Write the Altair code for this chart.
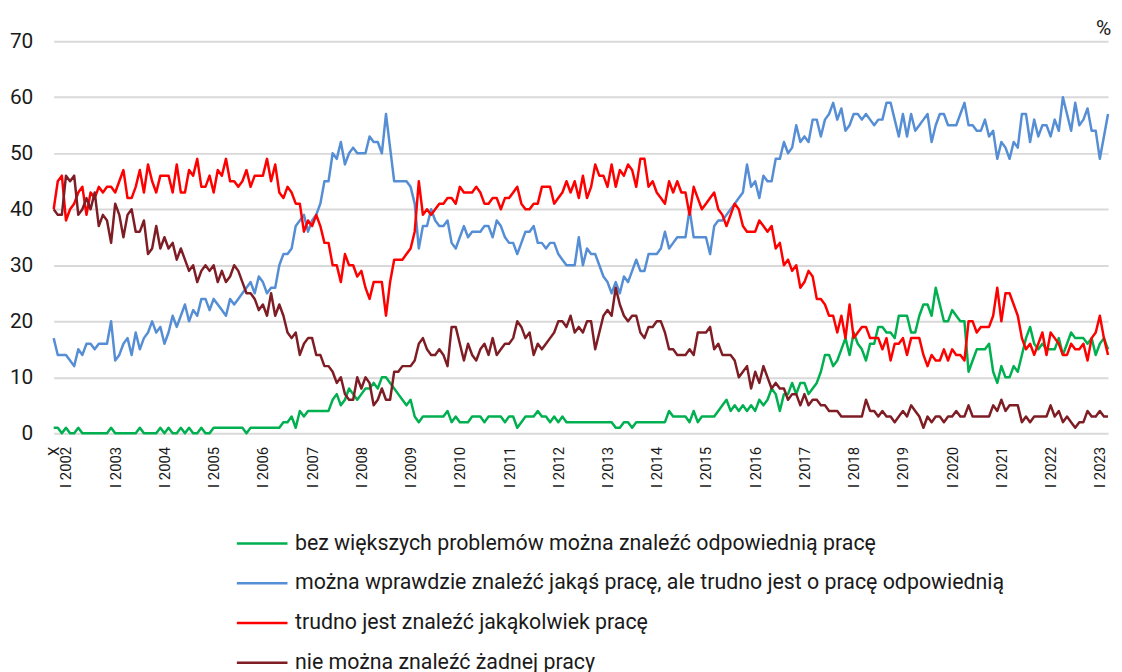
import altair as alt
import pandas as pd

# months from X 2001 to III 2023 (index 0 = X 2001)
green = [
    1,1,0,1,0,0,1,0,0,0, 0,0,0,0,1,0,0,0,0,0, 0,1,0,0,0,0,1,0,1,0,
    0,1,0,1,0,0,1,0,0,1, 1,1,1,1,1,1,1,0,1,1, 1,1,1,1,1,1,2,2,3,1,
    4,3,4,4,4,4,4,4,6,7, 5,6,8,7,6,7,8,8,9,8, 10,10,9,8,7,6,5,6,3,
    2,3,3,3,3,3,3,4,2,3, 2,2,2,3,3,3,2,3,3,3, 3,2,3,3,1,2,3,3,3,4,
    3,3,2,3,2,3,2,2,2,2, 2,2,2,2,2,2,2,2,1,1, 2,2,1,2,2,2,2,2,2,2,
    2,4,3,3,3,3,2,4,2,3, 3,3,3,4,5,6,4,
    5,4,5,4,5,4,6,5,6,8, 7,4,7,7,9,7,9,9,7,8, 9,11,14,14,12,13,15,17,14,18,
    16,15,13,16,16,19,19,18,18,17, 21,21,21,18,18,21,23,23,21,26,
    23,20,20,22,21,20,20,11,13,15, 15,15,16,11,9,12,10,10,12,11,
    14,17,19,16,15,16,15,15,15,17, 14,16,18,17,17,17,16,17,14,16, 17,15,
]
blue = [
    17,14,14,14,13,12,15,14,16,16, 15,16,16,16,20,13,14,16,17,14, 18,15,17,18,20,18,19,16,18,21,
    19,21,23,20,22,21,24,24,22,24, 23,22,21,24,23,24,25,26,27,25, 28,27,25,26,26,30,32,32,33,37,
    38,39,36,38,39,41,45,45,50,49, 52,48,50,51,50,50,50,53,52,52, 50,57,51,45,45,45,45,44,41,
    33,37,37,40,38,37,37,38,34,33, 35,37,35,36,36,36,37,37,35,38, 37,35,34,34,32,34,36,36,37,34,
    34,33,34,34,32,31,30,30,30,35, 30,33,32,32,30,28,27,25,27,25, 28,27,29,31,29,29,32,32,32,33,
    36,33,34,35,35,35,40,35,35,35, 35,32,37,38,38,39,40,
    41,42,43,48,44,45,42,46,45,45, 49,49,52,50,51,55,52,53,52,56, 56,53,56,57,59,56,58,54,55,57,
    57,56,57,56,55,56,56,59,59,56, 53,57,53,57,54,55,56,57,52,55, 57,57,55,55,55,57,59,55,55,54,
    54,56,53,54,49,52,51,49,52,51, 57,57,52,56,53,55,55,53,56,54, 60,57,54,59,55,56,58,54,54,49,
    53,57,
]
red = [
    40,45,46,38,40,41,43,44,39,43, 42,44,43,44,44,43,45,47,42,42, 44,47,43,48,45,43,46,46,46,43,
    48,43,43,47,46,49,44,44,46,43, 47,46,49,45,45,44,45,47,44,46, 46,46,49,45,48,43,42,44,43,41,
    41,36,38,37,39,37,34,34,30,30, 27,32,30,30,28,29,26,24,27,27, 27,21,27,31,31,31,32,33,36,
    45,39,40,39,40,41,41,42,42,41, 44,43,43,43,44,43,41,41,42,42, 40,42,42,43,44,41,40,40,41,41,
    44,44,44,41,42,43,45,43,45,42, 46,42,44,48,46,46,44,48,44,47, 46,48,47,44,49,49,44,45,43,42,
    41,45,43,45,43,43,39,44,42,40, 41,42,43,40,39,37,39,
    41,40,37,36,36,36,38,37,36,37, 33,34,30,31,29,30,26,27,29,28, 24,24,23,21,21,18,21,17,23,17,
    18,19,19,17,17,17,15,17,13,16, 16,17,14,17,17,17,14,12,14,13, 13,15,13,15,14,14,13,20,20,18,
    19,19,19,21,26,20,25,25,23,21, 17,15,16,14,16,18,14,18,17,16, 14,14,16,15,15,16,13,17,18,21,
    17,14,
]
dark_red = [
    40,39,39,46,45,46,39,40,42,40, 43,37,39,38,34,41,39,35,39,40, 36,36,38,32,33,37,33,35,33,34,
    31,33,31,29,30,27,29,30,29,30, 27,29,27,28,30,29,27,25,25,24, 22,23,21,25,21,23,21,18,17,18,
    14,16,17,17,14,14,12,12,11,9, 10,7,6,6,10,8,10,9,5,6, 8,6,6,11,11,12,12,12,13,
    16,17,15,14,14,15,14,12,19,19, 16,13,16,14,13,15,16,14,17,14, 15,16,16,17,20,19,17,18,14,16,
    15,16,17,18,20,20,19,21,18,19, 18,20,20,15,18,21,22,21,26,23, 21,20,21,21,18,17,19,19,20,20,
    18,15,15,14,14,14,15,14,18,18, 18,19,15,16,14,14,14,
    13,10,11,12,8,11,9,12,10,8, 9,8,8,6,7,7,5,7,5,6, 6,5,5,4,4,4,3,3,3,3,
    3,3,6,4,4,3,4,3,3,2, 3,4,3,5,4,3,1,3,2,3, 3,2,3,3,4,3,3,5,3,3,
    3,3,3,5,4,6,4,5,5,5, 2,3,2,3,3,3,3,5,3,4, 2,3,2,1,2,2,4,3,3,4,
    3,3,
]

series_names = [
    "bez większych problemów można znaleźć odpowiednią pracę",
    "można wprawdzie znaleźć jakąś pracę, ale trudno jest o pracę odpowiednią",
    "trudno jest znaleźć jakąkolwiek pracę",
    "nie można znaleźć żadnej pracy",
]
series_colors = ["#00B050", "#558ED5", "#FF0000", "#7F1D25"]

tick_positions = [0, 3, 15, 27, 39, 51, 63, 75, 87, 99, 111, 123, 135, 147, 159,
                  171, 183, 195, 207, 219, 231, 243, 255]
tick_labels = ["X", "I 2002", "I 2003", "I 2004", "I 2005", "I 2006", "I 2007", "I 2008",
               "I 2009", "I 2010", "I 2011", "I 2012", "I 2013", "I 2014", "I 2015",
               "I 2016", "I 2017", "I 2018", "I 2019", "I 2020", "I 2021", "I 2022", "I 2023"]
y_ticks = [0, 10, 20, 30, 40, 50, 60, 70]

all_series = [green, blue, red, dark_red]
n = len(green)
assert all(len(s) == n for s in all_series), [len(s) for s in all_series]

rows = []
for name, vals in zip(series_names, all_series):
    for i, v in enumerate(vals):
        rows.append({"idx": i, "value": v, "series": name})
df = pd.DataFrame(rows)

label_expr = ("[" + ",".join("'%s'" % t for t in tick_labels) + "][indexof(["
              + ",".join(str(p) for p in tick_positions) + "], datum.value)]")

FONT = "Roboto"
TXT = "#1a1a1a"

chart = alt.Chart(df).mark_line(strokeWidth=2.5, strokeJoin="round").encode(
    x=alt.X("idx:Q",
            scale=alt.Scale(domain=[0, n - 1], nice=False, zero=False),
            axis=alt.Axis(values=tick_positions, labelExpr=label_expr, labelAngle=270,
                          grid=False, domain=False, ticks=False, tickSize=0,
                          labelPadding=13, labelFontSize=15, labelFont=FONT,
                          labelColor=TXT, labelOverlap=False, labelFlush=False,
                          labelBound=False, title=None)),
    y=alt.Y("value:Q",
            scale=alt.Scale(domain=[0, 70], nice=False),
            axis=alt.Axis(values=y_ticks, grid=True, gridColor="#d9d9d9", gridWidth=2,
                          domain=False, ticks=False, tickSize=0, labelPadding=21,
                          labelFontSize=21, labelFont=FONT, labelColor=TXT,
                          title="%", titleAngle=0, titleX=1057, titleY=-7,
                          titleAlign="center", titleBaseline="alphabetic",
                          titleFontSize=21, titleFontWeight="normal", titleFont=FONT,
                          titleColor=TXT)),
    color=alt.Color("series:N",
                    scale=alt.Scale(domain=series_names, range=series_colors),
                    legend=alt.Legend(orient="none", legendX=183, legendY=479,
                                      direction="vertical", title=None,
                                      symbolType="stroke", symbolSize=2601,
                                      symbolStrokeWidth=2.5, labelFontSize=21.5,
                                      labelFont=FONT, labelColor=TXT, labelOffset=6,
                                      labelLimit=0, rowPadding=2)),
    order=alt.Order("idx:Q"),
).properties(
    width=1062, height=395,
    autosize=alt.AutoSizeParams(type="none"),
    padding={"left": 46, "top": 31, "right": 6, "bottom": 246},
).configure_view(strokeWidth=0)

chart.save("out.html", embed_options={"renderer": "svg", "actions": False})
